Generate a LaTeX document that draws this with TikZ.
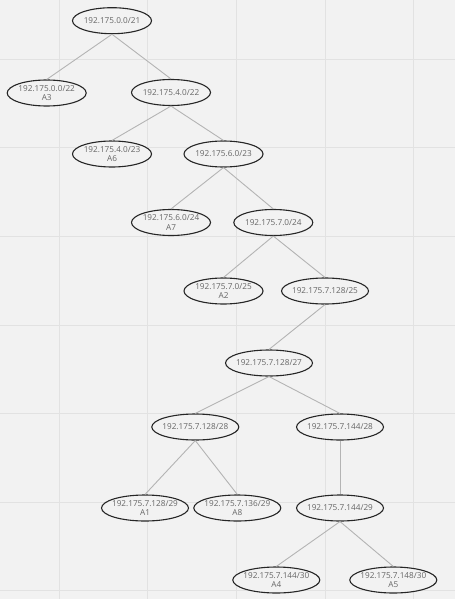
\documentclass[tikz,border=0pt]{standalone}
\usepackage{fontspec}
\setmainfont{Open Sans}
\usetikzlibrary{shapes.geometric}
\definecolor{bgc}{HTML}{F2F2F2}
\definecolor{gridc}{HTML}{E2E2E2}
\definecolor{edgec}{HTML}{B4B4B4}
\definecolor{txtc}{HTML}{666666}
\definecolor{rimc}{HTML}{262626}
\newcommand\onel[1]{\makebox[0pt]{\raisebox{-2.9pt}[0pt][0pt]{#1}}}
\newcommand\twol[2]{\makebox[0pt]{\raisebox{1.6pt}[0pt][0pt]{#1}}\makebox[0pt]{\raisebox{-7.9pt}[0pt][0pt]{#2}}}
\tikzset{
  net/.style={ellipse, draw=rimc, line width=1.1pt, fill=bgc, inner sep=0pt,
    minimum width=79pt, minimum height=26pt, text=txtc,
    font=\fontsize{8.2pt}{10pt}\selectfont},
  netw/.style={net, minimum width=87pt},
  link/.style={draw=edgec, line width=0.9pt},
  gridline/.style={draw=gridc, line width=0.9pt}
}
\begin{document}
\begin{tikzpicture}[x=1pt,y=-1pt]
\fill[bgc] (0,0) rectangle (455,599);
\useasboundingbox (0,0) rectangle (455,599);
\foreach \g in {59.3,147.9,236.5,325.1,413.7} {\draw[gridline] (\g,0) -- (\g,599);}
\foreach \g in {59.3,147.9,236.5,325.1,413.7,502.3,590.9} {\draw[gridline] (0,\g) -- (455,\g);}

\node[net]  (r)   at (112,20.7)   {\onel{192.175.0.0/21}};
\node[net]  (a3)  at (46.7,93)    {\twol{192.175.0.0/22}{A3}};
\node[net]  (n22) at (171,92.5)   {\onel{192.175.4.0/22}};
\node[net]  (a6)  at (112,154)    {\twol{192.175.4.0/23}{A6}};
\node[net]  (n23) at (223.5,154)  {\onel{192.175.6.0/23}};
\node[net]  (a7)  at (171,222.5)  {\twol{192.175.6.0/24}{A7}};
\node[net]  (n24) at (273.3,222.5){\onel{192.175.7.0/24}};
\node[net]  (a2)  at (223.5,291)  {\twol{192.175.7.0/25}{A2}};
\node[netw] (n25) at (325,291)    {\onel{192.175.7.128/25}};
\node[netw] (n27) at (269,363)    {\onel{192.175.7.128/27}};
\node[netw] (n28a) at (195.3,427) {\onel{192.175.7.128/28}};
\node[netw] (n28b) at (340,427)   {\onel{192.175.7.144/28}};
\node[netw] (a1)  at (145,508)    {\twol{192.175.7.128/29}{A1}};
\node[netw] (a8)  at (237.3,508)  {\twol{192.175.7.136/29}{A8}};
\node[netw] (n29) at (340,508)    {\onel{192.175.7.144/29}};
\node[netw] (a4)  at (276.3,580)  {\twol{192.175.7.144/30}{A4}};
\node[netw] (a5)  at (393.3,580)  {\twol{192.175.7.148/30}{A5}};

\draw[link] (r.south) -- (a3.north);
\draw[link] (r.south) -- (n22.north);
\draw[link] (n22.south) -- (a6.north);
\draw[link] (n22.south) -- (n23.north);
\draw[link] (n23.south) -- (a7.north);
\draw[link] (n23.south) -- (n24.north);
\draw[link] (n24.south) -- (a2.north);
\draw[link] (n24.south) -- (n25.north);
\draw[link] (n25.south) -- (n27.north);
\draw[link] (n27.south) -- (n28a.north);
\draw[link] (n27.south) -- (n28b.north);
\draw[link] (n28a.south) -- (a1.north);
\draw[link] (n28a.south) -- (a8.north);
\draw[link] (n28b.south) -- (n29.north);
\draw[link] (n29.south) -- (a4.north);
\draw[link] (n29.south) -- (a5.north);
\end{tikzpicture}
\end{document}
